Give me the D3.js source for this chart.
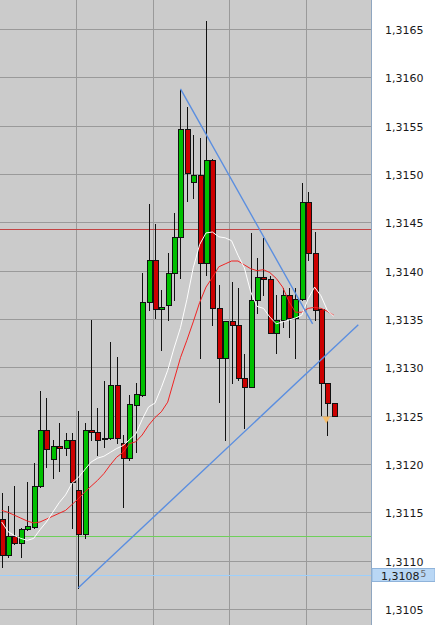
<!DOCTYPE html>
<html><head><meta charset="utf-8">
<script src="https://cdn.jsdelivr.net/npm/d3@7"></script>
<style>html,body{margin:0;padding:0;background:#fff;overflow:hidden}</style>
</head><body><svg id="c" width="435" height="625"></svg>
<script>
// ---- data ----
const open = [1.31143,1.31106,1.31125,1.31118,1.31133,1.31135,1.31177,1.31235,1.31205,1.31219,1.31217,1.31225,1.31173,1.31128,1.31235,1.31233,1.31227,1.31227,1.31282,1.31222,1.31206,1.31261,1.31271,1.31368,1.31411,1.31360,1.31364,1.31398,1.31435,1.31547,1.31492,1.31499,1.31408,1.31514,1.31361,1.31310,1.31348,1.31344,1.31289,1.31280,1.31370,1.31393,1.31391,1.31336,1.31349,1.31375,1.31351,1.31371,1.31471,1.31418,1.31360,1.31284,1.31263];
const high = [1.31170,1.31157,1.31177,1.31134,1.31181,1.31201,1.31275,1.31268,1.31225,1.31242,1.31232,1.31232,1.31255,1.31242,1.31349,1.31258,1.31286,1.31326,1.31311,1.31230,1.31271,1.31284,1.31398,1.31469,1.31448,1.31380,1.31418,1.31460,1.31587,1.31569,1.31540,1.31537,1.31658,1.31516,1.31385,1.31348,1.31388,1.31382,1.31314,1.31439,1.31413,1.31434,1.31394,1.31375,1.31382,1.31382,1.31382,1.31491,1.31481,1.31440,1.31360,1.31284,1.31263];
const low = [1.31093,1.31104,1.31117,1.31104,1.31132,1.31134,1.31176,1.31197,1.31186,1.31193,1.31209,1.31134,1.31072,1.31123,1.31225,1.31209,1.31218,1.31226,1.31222,1.31156,1.31204,1.31212,1.31270,1.31359,1.31351,1.31318,1.31349,1.31370,1.31392,1.31472,1.31475,1.31310,1.31396,1.31344,1.31264,1.31225,1.31284,1.31287,1.31237,1.31280,1.31356,1.31375,1.31335,1.31315,1.31342,1.31331,1.31310,1.31370,1.31411,1.31349,1.31251,1.31230,1.31250];
const close = [1.31106,1.31126,1.31118,1.31133,1.31136,1.31177,1.31235,1.31216,1.31219,1.31217,1.31225,1.31181,1.31128,1.31235,1.31233,1.31225,1.31226,1.31282,1.31227,1.31206,1.31262,1.31272,1.31368,1.31411,1.31360,1.31362,1.31398,1.31435,1.31547,1.31501,1.31499,1.31408,1.31514,1.31361,1.31310,1.31348,1.31344,1.31289,1.31280,1.31370,1.31393,1.31391,1.31336,1.31349,1.31375,1.31351,1.31371,1.31471,1.31418,1.31359,1.31284,1.31263,1.31250];
const maFast = [1.31140,1.31130,1.31126,1.31123,1.31121,1.31123,1.31132,1.31140,1.31150,1.31160,1.31168,1.31180,1.31186,1.31194,1.31202,1.31206,1.31208,1.31212,1.31216,1.31219,1.31225,1.31231,1.31246,1.31259,1.31263,1.31279,1.31297,1.31320,1.31341,1.31370,1.31403,1.31427,1.31439,1.31440,1.31435,1.31434,1.31431,1.31416,1.31403,1.31378,1.31363,1.31361,1.31352,1.31345,1.31347,1.31349,1.31351,1.31354,1.31371,1.31383,1.31374,1.31359,1.31353];
const maSlow = [1.31152,1.31150,1.31147,1.31144,1.31141,1.31139,1.31140,1.31143,1.31146,1.31149,1.31152,1.31158,1.31164,1.31171,1.31177,1.31183,1.31190,1.31199,1.31207,1.31212,1.31221,1.31223,1.31230,1.31240,1.31248,1.31254,1.31264,1.31287,1.31310,1.31328,1.31347,1.31367,1.31383,1.31393,1.31404,1.31407,1.31410,1.31410,1.31406,1.31402,1.31400,1.31401,1.31398,1.31392,1.31383,1.31368,1.31357,1.31357,1.31361,1.31362,1.31361,1.31358,1.31354];
const priceTicks = [1.3105,1.3110,1.3115,1.3120,1.3125,1.3130,1.3135,1.3140,1.3145,1.3150,1.3155,1.3160,1.3165];
const timeGrid = [12.65,24.65,36.65,48.65];            // bar positions of vertical grid lines
const trendLines = [[29,1.31588,49.7,1.31345],[13,1.31072,56.85,1.31344]];
const levels = [1.31443,1.31126,1.31085];
const levelColors = ["#c24444","#6ed05a","#9ccffc"];
const currentPrice = 1.31085;
const markerBar = 52, markerPrice = 1.31246;

// ---- layout ----
const W = 435, H = 625, plotR = 371;
const svg = d3.select("#c");
const x = d3.scaleLinear().domain([0.734, 58.84]).range([0, plotR]);
const y = d3.scaleLinear().domain([1.3165, 1.3105]).range([29, 609]);
const loc = d3.formatLocale({decimal: ",", thousands: ".", grouping: [3], currency: ["", ""]});
const fmt = loc.format(".4f");

svg.append("rect").attr("x",0).attr("y",0).attr("width",plotR).attr("height",H).attr("fill","#cbcbcb");

// grid
svg.append("g").selectAll("line").data(priceTicks).join("line")
  .attr("x1",0).attr("x2",plotR)
  .attr("y1",d=>Math.round(y(d))+0.5).attr("y2",d=>Math.round(y(d))+0.5)
  .attr("stroke","#9a9a9a").attr("stroke-width",1);
svg.append("g").selectAll("line").data(timeGrid).join("line")
  .attr("x1",d=>Math.round(x(d))+0.5).attr("x2",d=>Math.round(x(d))+0.5)
  .attr("y1",0).attr("y2",H)
  .attr("stroke","#9a9a9a").attr("stroke-width",1);

// level lines
svg.append("g").selectAll("line").data(levels).join("line")
  .attr("x1",0).attr("x2",plotR)
  .attr("y1",d=>Math.round(y(d))+0.5).attr("y2",d=>Math.round(y(d))+0.5)
  .attr("stroke",(d,i)=>levelColors[i]).attr("stroke-width",1);

// candles
const bars = open.map((o,i)=>({i:i+1,o,h:high[i],l:low[i],c:close[i]}));
const cg = svg.append("g");
const cx = d => Math.round(x(d.i)) + 0.5;
cg.selectAll("line").data(bars).join("line")
  .attr("x1",cx).attr("x2",cx)
  .attr("y1",d=>Math.round(y(d.h))).attr("y2",d=>Math.round(y(d.l))+1)
  .attr("stroke","#111").attr("stroke-width",1);
cg.selectAll("rect").data(bars).join("rect")
  .attr("x",d=>cx(d)-2)
  .attr("y",d=>Math.round(y(Math.max(d.o,d.c)))+0.5)
  .attr("width",5)
  .attr("height",d=>Math.max(1,Math.round(y(Math.min(d.o,d.c)))-Math.round(y(Math.max(d.o,d.c)))))
  .attr("fill",d=>d.c>=d.o?"#00c000":"#cc0000")
  .attr("stroke","#111").attr("stroke-width",1);

// moving averages
const line = d3.line().x((d,i)=>x(i+1)).y(d=>y(d));
svg.append("path").attr("d",line(maSlow)).attr("fill","none").attr("stroke","#f02424").attr("stroke-width",1);
svg.append("path").attr("d",line(maFast)).attr("fill","none").attr("stroke","#ffffff").attr("stroke-width",1);

// trend lines
svg.append("g").selectAll("line").data(trendLines).join("line")
  .attr("x1",d=>x(d[0])).attr("y1",d=>y(d[1]))
  .attr("x2",d=>x(d[2])).attr("y2",d=>y(d[3]))
  .attr("stroke","#5a8ee0").attr("stroke-width",1.4);

// marker
const mx = x(markerBar)-1, my = y(markerPrice);
svg.append("path").attr("d",`M${mx-4},${my-3}L${mx+4},${my-3}L${mx},${my+4}Z`).attr("fill","#f6bd6a");

// right axis
svg.append("rect").attr("x",plotR+1).attr("y",0).attr("width",W-plotR-1).attr("height",H).attr("fill","#ffffff");
svg.append("line").attr("x1",plotR+0.5).attr("x2",plotR+0.5).attr("y1",0).attr("y2",H).attr("stroke","#8fa6c0");
svg.append("g").selectAll("text").data(priceTicks).join("text")
  .attr("x",385).attr("y",d=>y(d)+5)
  .attr("font-family","DejaVu Sans, sans-serif").attr("font-size",11).attr("fill","#1a1a1a")
  .text(d=>fmt(d));

// current price box
const cy = y(currentPrice);
svg.append("rect").attr("x",plotR+1).attr("y",Math.round(cy)-6.5).attr("width",W-plotR-1).attr("height",13)
  .attr("fill","#b9d7f5").attr("stroke","#8fb3da").attr("stroke-width",1);
const ct = svg.append("text").attr("x",381).attr("y",cy+4.5)
  .attr("font-family","DejaVu Sans, sans-serif").attr("font-size",11).attr("fill","#1a1a1a");
const cs = d3.format(".5f")(currentPrice).replace(".",",");
ct.append("tspan").text(cs.slice(0,-1));
ct.append("tspan").attr("dx",1).attr("dy",-3).attr("font-size",9).attr("fill","#666").text(cs.slice(-1));
</script>
</body></html>
